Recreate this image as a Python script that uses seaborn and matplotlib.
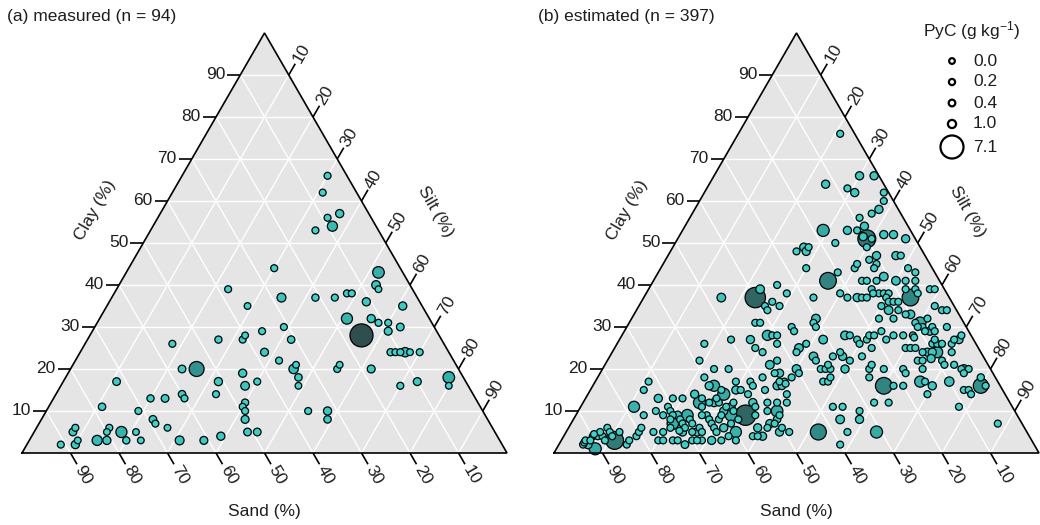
import numpy as np
import pandas as pd
import matplotlib
matplotlib.use("Agg")
import matplotlib.pyplot as plt
import seaborn as sns

sns.set_theme(style="white")
plt.rcParams["font.family"] = ["Liberation Sans", "DejaVu Sans"]
plt.rcParams["mathtext.fontset"] = "custom"
plt.rcParams["mathtext.rm"] = "Liberation Sans"
plt.rcParams["mathtext.it"] = "Liberation Sans:italic"
plt.rcParams["mathtext.default"] = "regular"

# ---- (a) measured samples: sand %, clay %, PyC (g/kg) ----
sand_a = [4, 7, 6, 9, 9, 13, 26, 5, 38, 7,
          7, 28, 21, 17, 14, 13, 36, 11, 4, 17,
          12, 11, 9, 7, 10, 16, 31, 36, 40, 41,
          46, 31, 56, 38, 12, 11, 10, 9, 8, 6,
          36, 33, 34, 34, 35, 24, 25, 18, 45, 46,
          43, 51, 54, 57, 72, 10, 14, 3, 4, 60,
          60, 53, 67, 64, 78, 71, 48, 49, 49, 50,
          36, 32, 33, 69, 69, 67, 51, 49, 57, 61,
          66, 74, 74, 77, 77, 79, 80, 81, 83, 86,
          87, 87, 88, 91]
clay_a = [66, 62, 57, 56, 54, 53, 44, 43, 39, 40,
          39, 37, 37, 37, 38, 38, 35, 36, 35, 32,
          32, 31, 31, 30, 29, 28, 30, 29, 28, 27,
          27, 27, 26, 24, 24, 24, 24, 24, 24, 24,
          22, 21, 20, 18, 16, 21, 20, 20, 19, 16,
          17, 17, 20, 20, 17, 17, 16, 18, 16, 14,
          13, 14, 13, 13, 11, 10, 12, 11, 10, 8,
          10, 10, 8, 8, 7, 6, 5, 5, 4, 3,
          3, 3, 5, 3, 5, 6, 5, 3, 3, 6,
          5, 3, 2, 2]
pyc_a = [.5, .5, 1.0, .5, 1.8, .5, .5, 2.4, .5, 1.2,
         .4, 1.3, .6, .5, .5, .5, .4, 1.0, 1.0, 2.2,
         1.0, .5, .5, .8, .9, 7.1, .5, .5, .4, .5,
         .6, .7, .5, .9, .6, .5, .5, 1.5, .4, .5,
         .5, .4, 1.5, .7, .4, .4, .5, .9, 1.0, 1.2,
         .5, 1.0, 3.8, .8, .8, .9, .5, 2.4, .4, .7,
         .5, .5, .6, .8, .7, .5, .6, .5, .5, .9,
         .5, 1.0, .7, .8, .5, .4, .8, .8, 1.0, .9,
         1.3, .4, .4, .6, 2.2, .5, .4, 1.0, 1.8, .5,
         .8, .4, 1.0, .5]

# ---- (b) estimated samples ----
sand_b = [26, 23, 20, 16, 15, 11, 12, 16, 15, 13,
          11, 9, 5, 4, 5, 7, 3, 2, 38, 40,
          47, 34, 33, 28, 22, 21, 19, 18, 17, 15,
          14, 13, 12, 15.2, 13, 13, 12, 11, 8, 8,
          6, 6, 39, 39, 37, 36, 14, 12, 15, 4,
          3, 2, 43, 42, 30, 31, 31, 36, 36, 17,
          11, 10, 10, 9, 7, 9, 7, 7, 8, 4,
          14, 42, 41, 40, 41, 56, 50, 46, 46, 45,
          31, 26, 25, 24, 24, 22, 21, 20, 18, 18,
          16, 22, 37, 38, 35, 15, 14, 13, 12, 11,
          10, 9, 9, 8, 7, 5, 4, 3, 2, 6,
          59, 45, 43, 45, 44, 35, 35, 31, 29, 29,
          28, 35, 34, 33, 33, 30, 25, 25, 24, 22,
          18, 18, 14, 14, 9, 9, 7, 6, 5.5, 4.5,
          6, 40, 40, 42, 44, 57, 54, 26, 60, 60,
          59, 58, 58, 54, 54, 51, 51, 49, 46, 45,
          45, 44, 36, 35, 34, 24, 22, 20, 16, 15,
          14, 16, 10, 8, 7, 7, 4, 3, 3, 72,
          74, 78, 72, 69, 67, 74, 71, 71, 71, 70,
          68, 68, 64, 64, 63, 64, 62, 60, 59, 58,
          60, 58, 56, 53, 53, 54, 50, 48, 49, 50,
          51, 51, 46, 37, 35, 32, 28, 25, 11, 93,
          92.5, 92, 91, 90, 89, 88, 86, 88, 86, 86,
          84, 84, 83, 81, 80, 79, 77, 77, 77, 76,
          75, 74, 73, 73, 70, 70, 70, 71, 72, 69,
          70, 67, 68, 67, 64, 64, 64, 64, 66, 64,
          62, 62, 60, 61, 58, 60, 57, 56, 55, 53,
          52, 50, 49, 43, 40, 37, 37, 33, 31, 5,
          3, 4, 1, 12, 8, 7, 1, 2, 4, 6,
          9, 9, 11, 18, 13, 10, 10.5, 9, 11, 6,
          4, 2, 17, 26, 24, 23, 24, 12, 10, 6,
          5,
          88, 89.5, 92, 91, 86, 71.5, 72, 72, 68, 68,
          69, 65, 73, 60, 55, 53, 48, 45, 61, 57,
          59, 49, 55, 51, 64, 62, 61, 10, 9, 14,
          12, 12, 8, 13, 11]
clay_b = [44, 41, 43, 44, 45, 45, 44, 41, 41, 41,
          42, 41, 44, 43, 41, 41, 39, 39, 39, 37,
          37, 40, 38, 37, 38, 37, 37, 37, 37, 39,
          38, 38, 38, 38, 37, 36, 36, 36, 37, 39,
          39, 38, 35, 34, 36, 35, 34, 34, 35, 35,
          34, 34, 31, 31, 32, 31, 30, 30, 29, 32,
          33, 33, 31, 31, 32, 30, 30, 29, 29, 30,
          32, 28, 28, 28, 26, 26, 27, 27, 25, 24,
          27, 28, 28, 27, 26, 27, 28, 28, 29, 27,
          28, 25, 25, 24, 26, 25, 25, 25, 24, 24,
          24, 24, 26, 26, 26, 26, 27, 27, 28, 24,
          22, 21, 22, 19, 19, 23, 22, 23, 24, 23,
          22, 20, 20, 20, 21, 20, 23, 20, 21, 20,
          20, 19, 22, 20, 22, 21, 21, 20, 20, 20,
          19, 20, 19, 18, 17, 20, 20, 18, 18, 16,
          16, 15, 14, 17, 15, 17, 16, 15, 16, 16,
          17, 16.5, 17, 17, 18, 16, 16, 16, 17, 17,
          16, 14, 17, 15, 15, 14, 16, 18, 16, 17,
          15, 11, 13, 13, 13, 10, 11, 10, 9, 9,
          9, 8, 14, 12, 13, 11, 12, 12, 11, 11,
          10, 10, 9, 12, 11, 9, 12, 12, 10, 8,
          7, 10, 12, 11, 11, 10, 12, 12, 11, 2,
          2.5, 2, 1, 4, 4, 4, 6, 3, 5, 3,
          5, 2, 3, 4, 5, 6, 9, 5, 3, 3,
          5, 3, 3, 6, 8, 7, 6, 5, 2, 5,
          3, 6, 3, 5, 9, 8, 7, 6, 3, 3,
          6, 4, 5, 3, 8, 7, 4, 4, 6, 6,
          7, 6, 5, 5, 2, 8, 5, 8, 5, 7,
          76, 66, 66, 64, 63, 62, 62, 60, 58, 57,
          56, 54, 53, 53, 53, 51, 51.5, 51, 49, 52,
          52, 51, 50, 48, 49, 49, 48, 46, 47, 47,
          47,
          5, 4.5, 3, 3, 4, 5.3, 8, 7, 7, 5,
          3, 9, 9, 13, 15, 14, 18, 14, 12, 12,
          9, 9, 4, 5, 5, 8, 9, 30, 29, 28,
          28, 27.5, 27, 22, 22.5]
pyc_b = [.5, 4.5, .5, .5, .5, .5, .5, .5, .5, .5,
         1.2, 1.2, .5, .5, .5, .5, .5, .5, 1.2, 6.0,
         1.2, .5, .5, .5, .5, .5, 1.0, .5, .5, .5,
         .5, .5, .5, .5, .5, .5, .5, .5, 4.5, .5,
         .5, .5, .5, .5, .5, .5, 1.2, .5, .5, .5,
         .5, .5, .5, .5, 1.2, .5, .5, .5, .5, .5,
         .5, 1.2, .5, 2.4, .5, .5, .5, .5, 1.0, .5,
         .5, 1.8, .5, .5, .5, .5, .5, 1.0, .5, .5,
         1.2, 1.2, .5, .5, .5, .5, .5, .5, .5, .5,
         .5, .5, 1.2, .5, .5, .5, .5, .5, .5, 1.0,
         1.0, 2.2, .5, .5, .5, .5, .5, 1.0, .5, .5,
         .5, 1.2, .5, .5, 1.0, 1.2, .5, .5, .5, 1.0,
         .5, .5, .5, .5, .5, 1.0, .5, .5, .5, .5,
         .5, .5, .5, .5, .5, .5, .5, .5, 1.2, .5,
         .5, 1.2, .5, .5, .5, .5, .5, .5, .5, 1.0,
         2.2, .5, 2.6, .5, .5, .5, .5, .5, 1.0, .8,
         .5, .5, .5, .5, .5, 4.5, .5, .5, 2.2, .5,
         1.0, .5, 1.5, .5, .5, .5, 3.8, .6, .5, .5,
         .5, 2.2, 1.0, .5, .5, .5, .5, .5, .5, 1.0,
         2.4, .5, 1.0, 2.6, .5, .5, .5, .5, .5, 1.0,
         1.0, .5, 6.0, 1.0, .5, .5, .5, .5, 2.4, .7,
         .5, .5, .5, .5, .5, .5, .5, .5, .5, .5,
         .5, 1.0, 2.6, .5, .5, .5, .5, .5, .5, 5.0,
         .5, .5, .5, .5, .5, .5, .5, .5, .5, .5,
         .5, .5, .5, .5, .5, .5, .5, 1.0, .8, .5,
         .5, .5, .5, .5, .5, .5, .5, .5, 1.0, .5,
         1.0, .5, 2.2, .5, .5, .5, .5, .5, 1.0, .5,
         1.0, .5, .5, 4.2, .5, 1.2, .5, 1.0, 2.6, .5,
         .5, 1.0, 1.0, 1.0, .5, 1.0, .5, .5, 1.0, .5,
         .5, 1.0, .5, 2.6, 1.0, 5.0, 1.0, .5, .5, 1.0,
         1.0, 1.0, .5, .5, 1.0, .5, 1.0, .5, 1.0, 1.0,
         .5,
         .5, .5, .5, .5, .5, .5, .5, 2.4, .5, 1.0,
         .5, .5, .5, .5, 1.0, .5, .5, .5, 1.0, .5,
         2.4, .5, 1.0, 1.0, .5, .5, .5, .5, .5, .5,
         .5, .5, .5, .5, 1.0]

axis_ticks = [10, 20, 30, 40, 50, 60, 70, 80, 90]
legend_values = [0.0, 0.2, 0.4, 1.0, 7.1]
legend_labels = ["0.0", "0.2", "0.4", "1.0", "7.1"]
panel_titles = ["(a) measured (n = 94)", "(b) estimated (n = 397)"]
legend_title = "PyC (g kg$^{-1}$)"
PYC_MAX = 7.1

H = np.sqrt(3) / 2
DPI = 100
UNIT_PX = 485.0           # triangle side length in pixels
FS = 12.5
TXT = "#1e1e1e"

cmap = sns.blend_palette(["#30E3DA", "#2F4F4F"], as_cmap=True)


def to_xy(sand, clay):
    sand = np.asarray(sand, float)
    clay = np.asarray(clay, float)
    silt = 100.0 - sand - clay
    return (silt + clay / 2) / 100.0, H * clay / 100.0


def marker_area(v):
    d_px = 5.7 + 2.44 * np.asarray(v, float)
    return (d_px * 72.0 / DPI) ** 2


def draw_frame(ax):
    tri = plt.Polygon([(0, 0), (1, 0), (0.5, H)], closed=True,
                      facecolor="#E5E5E5", edgecolor="none", zorder=0)
    ax.add_patch(tri)
    grid_kw = dict(color="white", lw=1.0, zorder=1, solid_capstyle="butt")
    for v in axis_ticks:
        f = v / 100.0
        # clay isoline
        ax.plot([f / 2, 1 - f / 2], [H * f, H * f], **grid_kw)
        # sand isoline
        ax.plot([1 - f, (1 - f) / 2], [0, H * (1 - f)], **grid_kw)
        # silt isoline
        ax.plot([f, 0.5 + f / 2], [0, H * (1 - f)], **grid_kw)
    ax.plot([0, 1, 0.5, 0], [0, 0, H, 0], color="black", lw=1.2, zorder=5,
            solid_joinstyle="miter", clip_on=False)

    tl = 13 / UNIT_PX
    lab = 25 / UNIT_PX
    tick_kw = dict(color="black", lw=1.2, zorder=5, clip_on=False, solid_capstyle="butt")
    for v in axis_ticks:
        f = v / 100.0
        # clay (left edge)
        cx, cy = f / 2, H * f
        ax.plot([cx, cx - tl], [cy, cy], **tick_kw)
        ax.text(cx - tl - 2 / UNIT_PX, cy, str(v), ha="right", va="center",
                fontsize=FS, color=TXT)
        # sand (bottom edge)
        sx, sy = 1 - f, 0.0
        ax.plot([sx, sx + 0.5 * tl], [sy, sy - H * tl], **tick_kw)
        ax.text(sx + 0.5 * lab, sy - H * lab, str(v), ha="center", va="center",
                rotation=-60, rotation_mode="anchor", fontsize=FS, color=TXT)
        # silt (right edge)
        tx, ty = 0.5 + f / 2, H * (1 - f)
        ax.plot([tx, tx + 0.5 * tl], [ty, ty + H * tl], **tick_kw)
        ax.text(tx + 0.5 * lab, ty + H * lab, str(v), ha="center", va="center",
                rotation=60, rotation_mode="anchor", fontsize=FS, color=TXT)

    ax.text(0.1505, 0.501, "Clay (%)", rotation=60, ha="center", va="center",
            rotation_mode="anchor", fontsize=FS, color=TXT)
    ax.text(0.8525, 0.497, "Silt (%)", rotation=-60, ha="center", va="center",
            rotation_mode="anchor", fontsize=FS, color=TXT)
    ax.text(0.5, -0.1196, "Sand (%)", ha="center", va="center",
            fontsize=FS, color=TXT)


def draw_points(ax, sand, clay, pyc):
    x, y = to_xy(sand, clay)
    df = pd.DataFrame({"x": x, "y": y, "pyc": np.asarray(pyc, float)})
    df["area"] = marker_area(df["pyc"])
    df = df.sort_values("pyc", ascending=False, kind="stable")
    a0, a1 = float(marker_area(0)), float(marker_area(PYC_MAX))
    sns.scatterplot(data=df, x="x", y="y", hue="pyc", hue_norm=(0, PYC_MAX),
                    palette=cmap, size="area", sizes=(a0, a1), size_norm=(a0, a1),
                    edgecolor="black", linewidth=0.9, legend=False, ax=ax,
                    zorder=4, clip_on=False)


W, HGT = 1040, 525
fig = plt.figure(figsize=(W / DPI, HGT / DPI), dpi=DPI)
fig.patch.set_facecolor("white")

panels = [
    (0, 22, 7, sand_a, clay_a, pyc_a),
    (520, 554, 538, sand_b, clay_b, pyc_b),
]
axes = []
for i, (x_off, vx, title_x, s, c, p) in enumerate(panels):
    ax = fig.add_axes([x_off / W, 0, 520 / W, 1])
    draw_frame(ax)
    draw_points(ax, s, c, p)
    ax.set_xlim((x_off - vx) / UNIT_PX, (x_off + 520 - vx) / UNIT_PX)
    ax.set_ylim(-(HGT - 453) / UNIT_PX, 453 / UNIT_PX)
    ax.set_axis_off()
    axes.append(ax)
    fig.text(title_x / W, 1 - 17 / HGT, panel_titles[i],
             ha="left", va="center", fontsize=FS, color=TXT)

# size legend in panel (b)
axr = axes[1]
leg_y_px = [61, 82, 103, 124, 147]
for v, lbl, ypx in zip(legend_values, legend_labels, leg_y_px):
    yy = (453 - ypx) / UNIT_PX
    axr.scatter([(952 - 554) / UNIT_PX], [yy], s=marker_area(v), facecolor="none",
                edgecolor="black", linewidth=1.6, zorder=6, clip_on=False)
    axr.text((973 - 554) / UNIT_PX, yy, lbl, ha="left", va="center",
             fontsize=FS, color=TXT)
axr.text((923 - 554) / UNIT_PX, (453 - 31) / UNIT_PX, legend_title, ha="left",
         va="center", fontsize=FS, color=TXT)

fig.savefig("out.png", dpi=DPI, facecolor="white")
